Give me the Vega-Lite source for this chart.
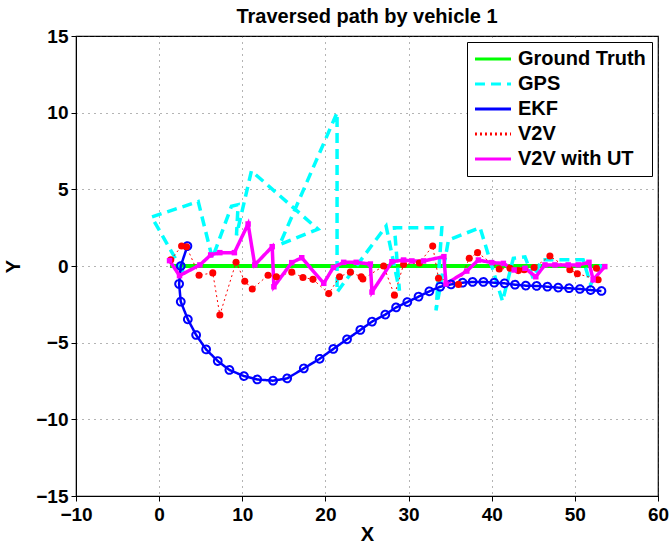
{
  "$schema": "https://vega.github.io/schema/vega-lite/v6.json",
  "autosize": "none",
  "width": 582,
  "height": 460,
  "padding": {"left": 76, "top": 36, "right": 13, "bottom": 48},
  "background": "white",
  "title": {"text": "Traversed path by vehicle 1", "font": "Liberation Sans", "fontSize": 20, "fontWeight": "bold", "color": "black", "offset": 0, "frame": "group"},
  "config": {
    "view": {"stroke": "black", "strokeWidth": 1.2},
    "axis": {
      "labelFont": "Liberation Sans", "labelFontSize": 19, "labelFontWeight": "bold", "labelColor": "black",
      "titleFont": "Liberation Sans", "titleFontSize": 20, "titleFontWeight": "bold", "titleColor": "black",
      "domainColor": "black", "tickColor": "black", "tickSize": 5,
      "gridColor": "#444", "gridDash": [1, 5], "gridWidth": 1, "gridOpacity": 0.8
    },
    "legend": {
      "orient": "top-right", "offset": 6, "fillColor": "white", "strokeColor": "black", "padding": 6,
      "labelFont": "Liberation Sans", "labelFontSize": 20, "labelFontWeight": "bold", "labelColor": "black",
      "symbolType": "stroke", "symbolSize": 1300, "symbolStrokeWidth": 3, "rowPadding": 3, "clipHeight": 22, "labelOffset": 5
    }
  },
  "data": {"values": [
    {"s": "Ground Truth", "i": 0, "x": 1.3, "y": 0},
    {"s": "Ground Truth", "i": 1, "x": 53.6, "y": 0},

    {"s": "GPS", "i": 0, "x": 2.9, "y": -0.4},
    {"s": "GPS", "i": 1, "x": -0.9, "y": 3.2},
    {"s": "GPS", "i": 2, "x": 4.7, "y": 4.2},
    {"s": "GPS", "i": 3, "x": 6.4, "y": 0.5},
    {"s": "GPS", "i": 4, "x": 8.7, "y": 3.9},
    {"s": "GPS", "i": 5, "x": 9.5, "y": 4.0},
    {"s": "GPS", "i": 6, "x": 9.3, "y": 2.0},
    {"s": "GPS", "i": 7, "x": 11.1, "y": 6.2},
    {"s": "GPS", "i": 8, "x": 19.1, "y": 2.4},
    {"s": "GPS", "i": 9, "x": 14.5, "y": 1.4},
    {"s": "GPS", "i": 10, "x": 21.4, "y": 10.0},
    {"s": "GPS", "i": 11, "x": 21.4, "y": -1.7},
    {"s": "GPS", "i": 12, "x": 27.3, "y": 2.6},
    {"s": "GPS", "i": 13, "x": 28.9, "y": -1.6},
    {"s": "GPS", "i": 14, "x": 28.3, "y": 2.5},
    {"s": "GPS", "i": 15, "x": 34.0, "y": 2.5},
    {"s": "GPS", "i": 16, "x": 33.3, "y": -2.9},
    {"s": "GPS", "i": 17, "x": 34.8, "y": 1.7},
    {"s": "GPS", "i": 18, "x": 38.6, "y": 2.5},
    {"s": "GPS", "i": 19, "x": 41.3, "y": -2.3},
    {"s": "GPS", "i": 20, "x": 42.6, "y": 0.5},
    {"s": "GPS", "i": 21, "x": 44.0, "y": 0.6},
    {"s": "GPS", "i": 22, "x": 45.0, "y": -0.8},
    {"s": "GPS", "i": 23, "x": 46.0, "y": 0.4},
    {"s": "GPS", "i": 24, "x": 51.0, "y": 0.4},
    {"s": "GPS", "i": 25, "x": 51.9, "y": -1.2},
    {"s": "GPS", "i": 26, "x": 53.2, "y": 0.1},

    {"s": "EKF", "i": 0, "x": 3.4, "y": 1.3},
    {"s": "EKF", "i": 1, "x": 2.6, "y": 0},
    {"s": "EKF", "i": 2, "x": 2.4, "y": -1.17},
    {"s": "EKF", "i": 3, "x": 2.6, "y": -2.33},
    {"s": "EKF", "i": 4, "x": 3.45, "y": -3.48},
    {"s": "EKF", "i": 5, "x": 4.45, "y": -4.5},
    {"s": "EKF", "i": 6, "x": 5.65, "y": -5.44},
    {"s": "EKF", "i": 7, "x": 7.05, "y": -6.2},
    {"s": "EKF", "i": 8, "x": 8.45, "y": -6.78},
    {"s": "EKF", "i": 9, "x": 10.2, "y": -7.18},
    {"s": "EKF", "i": 10, "x": 11.8, "y": -7.4},
    {"s": "EKF", "i": 11, "x": 13.7, "y": -7.48},
    {"s": "EKF", "i": 12, "x": 15.4, "y": -7.33},
    {"s": "EKF", "i": 13, "x": 17.4, "y": -6.68},
    {"s": "EKF", "i": 14, "x": 19.3, "y": -6.05},
    {"s": "EKF", "i": 15, "x": 20.95, "y": -5.41},
    {"s": "EKF", "i": 16, "x": 22.6, "y": -4.78},
    {"s": "EKF", "i": 17, "x": 24.2, "y": -4.17},
    {"s": "EKF", "i": 18, "x": 25.6, "y": -3.63},
    {"s": "EKF", "i": 19, "x": 27.2, "y": -3.17},
    {"s": "EKF", "i": 20, "x": 28.5, "y": -2.7},
    {"s": "EKF", "i": 21, "x": 29.85, "y": -2.35},
    {"s": "EKF", "i": 22, "x": 31.2, "y": -2.0},
    {"s": "EKF", "i": 23, "x": 32.5, "y": -1.65},
    {"s": "EKF", "i": 24, "x": 33.8, "y": -1.35},
    {"s": "EKF", "i": 25, "x": 35.1, "y": -1.2},
    {"s": "EKF", "i": 26, "x": 36.5, "y": -1.09},
    {"s": "EKF", "i": 27, "x": 37.7, "y": -1.04},
    {"s": "EKF", "i": 28, "x": 39.0, "y": -1.04},
    {"s": "EKF", "i": 29, "x": 40.3, "y": -1.09},
    {"s": "EKF", "i": 30, "x": 41.55, "y": -1.13},
    {"s": "EKF", "i": 31, "x": 42.8, "y": -1.22},
    {"s": "EKF", "i": 32, "x": 44.1, "y": -1.28},
    {"s": "EKF", "i": 33, "x": 45.4, "y": -1.3},
    {"s": "EKF", "i": 34, "x": 46.7, "y": -1.35},
    {"s": "EKF", "i": 35, "x": 48.0, "y": -1.41},
    {"s": "EKF", "i": 36, "x": 49.3, "y": -1.45},
    {"s": "EKF", "i": 37, "x": 50.6, "y": -1.5},
    {"s": "EKF", "i": 38, "x": 51.9, "y": -1.57},
    {"s": "EKF", "i": 39, "x": 53.2, "y": -1.63},

    {"s": "V2V", "i": 0, "x": 1.4, "y": 0.4},
    {"s": "V2V", "i": 1, "x": 2.7, "y": 1.3},
    {"s": "V2V", "i": 2, "x": 3.3, "y": 1.25},
    {"s": "V2V", "i": 3, "x": 4.8, "y": -0.6},
    {"s": "V2V", "i": 4, "x": 6.45, "y": -0.45},
    {"s": "V2V", "i": 5, "x": 7.3, "y": -3.2},
    {"s": "V2V", "i": 6, "x": 9.25, "y": 0.25},
    {"s": "V2V", "i": 7, "x": 10.3, "y": -1.0},
    {"s": "V2V", "i": 8, "x": 11.2, "y": -1.5},
    {"s": "V2V", "i": 9, "x": 13.1, "y": -0.6},
    {"s": "V2V", "i": 10, "x": 14.1, "y": -0.7},
    {"s": "V2V", "i": 11, "x": 15.95, "y": -0.4},
    {"s": "V2V", "i": 12, "x": 17.3, "y": -0.75},
    {"s": "V2V", "i": 13, "x": 18.5, "y": -0.87},
    {"s": "V2V", "i": 14, "x": 20.4, "y": -1.8},
    {"s": "V2V", "i": 15, "x": 21.7, "y": -0.7},
    {"s": "V2V", "i": 16, "x": 23.0, "y": -0.4},
    {"s": "V2V", "i": 17, "x": 24.3, "y": -0.7},
    {"s": "V2V", "i": 18, "x": 24.5, "y": -0.85},
    {"s": "V2V", "i": 19, "x": 27.0, "y": 0.0},
    {"s": "V2V", "i": 20, "x": 28.3, "y": -1.9},
    {"s": "V2V", "i": 21, "x": 29.4, "y": 0.1},
    {"s": "V2V", "i": 22, "x": 31.3, "y": 0.2},
    {"s": "V2V", "i": 23, "x": 32.9, "y": 1.3},
    {"s": "V2V", "i": 24, "x": 33.6, "y": -0.8},
    {"s": "V2V", "i": 25, "x": 36.0, "y": -1.2},
    {"s": "V2V", "i": 26, "x": 37.3, "y": 0.5},
    {"s": "V2V", "i": 27, "x": 38.3, "y": 0.87},
    {"s": "V2V", "i": 28, "x": 40.9, "y": -0.2},
    {"s": "V2V", "i": 29, "x": 42.2, "y": -0.15},
    {"s": "V2V", "i": 30, "x": 43.2, "y": -0.3},
    {"s": "V2V", "i": 31, "x": 43.9, "y": -0.25},
    {"s": "V2V", "i": 32, "x": 45.1, "y": -0.1},
    {"s": "V2V", "i": 33, "x": 47.0, "y": 0.65},
    {"s": "V2V", "i": 34, "x": 49.4, "y": -0.25},
    {"s": "V2V", "i": 35, "x": 50.3, "y": -0.5},
    {"s": "V2V", "i": 36, "x": 52.8, "y": -0.9},
    {"s": "V2V", "i": 37, "x": 52.6, "y": -0.15},

    {"s": "V2V with UT", "i": 0, "x": 1.25, "y": 0.35},
    {"s": "V2V with UT", "i": 1, "x": 2.45, "y": -0.63},
    {"s": "V2V with UT", "i": 2, "x": 4.9, "y": 0.07},
    {"s": "V2V with UT", "i": 3, "x": 6.2, "y": 0.72},
    {"s": "V2V with UT", "i": 4, "x": 7.3, "y": 0.87},
    {"s": "V2V with UT", "i": 5, "x": 9.05, "y": 0.87},
    {"s": "V2V with UT", "i": 6, "x": 10.7, "y": 2.74},
    {"s": "V2V with UT", "i": 7, "x": 11.5, "y": 0.07},
    {"s": "V2V with UT", "i": 8, "x": 13.6, "y": 1.26},
    {"s": "V2V with UT", "i": 9, "x": 13.8, "y": -1.35},
    {"s": "V2V with UT", "i": 10, "x": 15.95, "y": 0.22},
    {"s": "V2V with UT", "i": 11, "x": 17.15, "y": 0.54},
    {"s": "V2V with UT", "i": 12, "x": 19.8, "y": -1.13},
    {"s": "V2V with UT", "i": 13, "x": 20.95, "y": -0.09},
    {"s": "V2V with UT", "i": 14, "x": 22.2, "y": 0.24},
    {"s": "V2V with UT", "i": 15, "x": 23.7, "y": 0.24},
    {"s": "V2V with UT", "i": 16, "x": 25.4, "y": 0.13},
    {"s": "V2V with UT", "i": 17, "x": 25.6, "y": -1.7},
    {"s": "V2V with UT", "i": 18, "x": 28.0, "y": 0.28},
    {"s": "V2V with UT", "i": 19, "x": 29.4, "y": 0.39},
    {"s": "V2V with UT", "i": 20, "x": 30.4, "y": 0.33},
    {"s": "V2V with UT", "i": 21, "x": 31.8, "y": 0.33},
    {"s": "V2V with UT", "i": 22, "x": 34.25, "y": 0.61},
    {"s": "V2V with UT", "i": 23, "x": 34.5, "y": -1.17},
    {"s": "V2V with UT", "i": 24, "x": 37.0, "y": -0.33},
    {"s": "V2V with UT", "i": 25, "x": 38.4, "y": 0.39},
    {"s": "V2V with UT", "i": 26, "x": 40.0, "y": 0.22},
    {"s": "V2V with UT", "i": 27, "x": 41.4, "y": 0.17},
    {"s": "V2V with UT", "i": 28, "x": 42.7, "y": -0.26},
    {"s": "V2V with UT", "i": 29, "x": 44.0, "y": -0.15},
    {"s": "V2V with UT", "i": 30, "x": 45.3, "y": -0.7},
    {"s": "V2V with UT", "i": 31, "x": 46.4, "y": 0.07},
    {"s": "V2V with UT", "i": 32, "x": 47.6, "y": 0.07},
    {"s": "V2V with UT", "i": 33, "x": 49.2, "y": 0.07},
    {"s": "V2V with UT", "i": 34, "x": 50.4, "y": 0.07},
    {"s": "V2V with UT", "i": 35, "x": 51.7, "y": 0.24},
    {"s": "V2V with UT", "i": 36, "x": 52.2, "y": -0.9},
    {"s": "V2V with UT", "i": 37, "x": 53.6, "y": -0.04}
  ]},
  "encoding": {
    "x": {"field": "x", "type": "quantitative", "title": "X",
          "scale": {"domain": [-10, 60], "nice": false, "zero": false},
          "axis": {"values": [-10, 0, 10, 20, 30, 40, 50, 60], "labelPadding": 4, "titlePadding": 0, "labelFlush": false}},
    "y": {"field": "y", "type": "quantitative", "title": "Y",
          "scale": {"domain": [-15, 15], "nice": false, "zero": false},
          "axis": {"values": [-15, -10, -5, 0, 5, 10, 15], "labelPadding": 3, "titlePadding": 12, "labelFlush": false}},
    "color": {"field": "s", "type": "nominal", "title": null,
              "scale": {"domain": ["Ground Truth", "GPS", "EKF", "V2V", "V2V with UT"],
                        "range": ["#00ff00", "#00ffff", "#0000ff", "#ff0000", "#ff00ff"]}},
    "strokeDash": {"field": "s", "type": "nominal", "title": null,
                   "scale": {"domain": ["Ground Truth", "GPS", "EKF", "V2V", "V2V with UT"],
                             "range": [[1, 0], [10, 6], [1, 0], [2, 3], [1, 0]]}},
    "order": {"field": "i", "type": "quantitative"}
  },
  "layer": [
    {
      "transform": [{"filter": "datum.s === 'Ground Truth'"}],
      "mark": {"type": "line", "clip": true, "strokeWidth": 4}
    },
    {
      "transform": [{"filter": "datum.s === 'GPS'"}],
      "mark": {"type": "line", "clip": true, "strokeWidth": 3.5}
    },
    {
      "transform": [{"filter": "datum.s === 'EKF'"}],
      "mark": {"type": "line", "clip": true, "strokeWidth": 2.5}
    },
    {
      "transform": [{"filter": "datum.s === 'V2V'"}],
      "mark": {"type": "line", "clip": true, "strokeWidth": 1}
    },
    {
      "transform": [{"filter": "datum.s === 'V2V with UT'"}],
      "mark": {"type": "line", "clip": true, "strokeWidth": 3.5}
    },
    {
      "transform": [{"filter": "datum.s === 'EKF'"}],
      "mark": {"type": "point", "shape": "circle", "filled": false, "strokeWidth": 2, "size": 60, "opacity": 1},
      "encoding": {"strokeDash": {"value": [1, 0]}}
    },
    {
      "transform": [{"filter": "datum.s === 'V2V'"}],
      "mark": {"type": "point", "shape": "circle", "filled": true, "opacity": 1, "size": 50},
      "encoding": {"strokeDash": {"value": [1, 0]}}
    },
    {
      "transform": [{"filter": "datum.s === 'V2V with UT'"}],
      "mark": {"type": "point", "shape": "square", "filled": true, "opacity": 1, "size": 30},
      "encoding": {"strokeDash": {"value": [1, 0]}}
    }
  ]
}
